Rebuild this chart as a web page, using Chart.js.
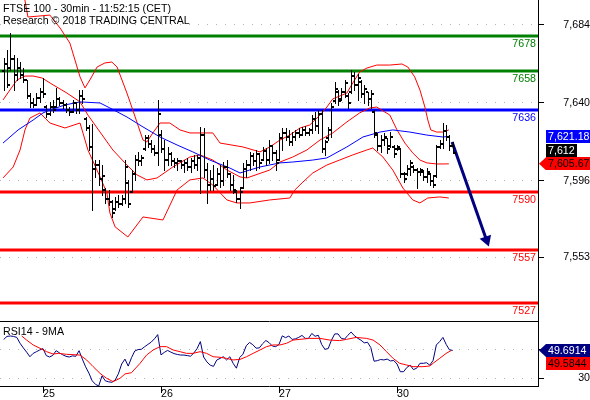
<!DOCTYPE html>
<html>
<head>
<meta charset="utf-8">
<script src="https://cdn.jsdelivr.net/npm/chart.js@4.4.1/dist/chart.umd.min.js"></script>
<style>
html, body { margin: 0; padding: 0; background: #fff; }
#wrap { position: relative; width: 590px; height: 400px; overflow: hidden; }
#price { position: absolute; left: 0; top: 0; }
#rsi { position: absolute; left: 0; top: 321px; }
</style>
</head>
<body>
<div id="wrap">
  <canvas id="price" width="590" height="321"></canvas>
  <canvas id="rsi" width="590" height="79"></canvas>
</div>
<script>
// ---- data (x = 30min bar index) ----
var titleLine1 = 'FTSE 100 - 30min - 11:52:15 (CET)';
var titleLine2 = 'Research \u00a9 2018 TRADING CENTRAL';
var rsiTitle = 'RSI14 - 9MA';

var dayIdx = [12, 48, 84, 120];
var dayLabels = ['25', '26', '27', '30'];
var priceTicks = [7553, 7596, 7640, 7684];
var rsiTicks = [30, 50];

var levels = [7678, 7658, 7636, 7590, 7557, 7527];
var levelColors = ['#008000', '#008000', '#0000ff', '#ff0000', '#ff0000', '#ff0000'];

var high = [
  7665.4,7669.9,7679.5,7667.1,7665.4,7663.1,7659.7,7653.0,7645.6,7642.8,
  7645.6,7648.5,7654.1,7638.9,7640.6,7641.7,7648.5,7643.4,7641.7,7640.0,
  7637.7,7641.7,7640.6,7647.3,7647.3,7632.1,7627.6,7628.0,7607.8,7607.8,
  7605.0,7592.0,7590.9,7585.3,7587.0,7588.1,7588.1,7607.8,7596.6,7602.2,
  7610.7,7612.4,7610.7,7621.9,7621.9,7619.1,7616.3,7641.7,7624.8,7619.1,
  7615.2,7612.4,7609.0,7609.0,7607.8,7607.8,7609.0,7609.0,7610.7,7610.7,
  7626.5,7625.9,7606.2,7602.2,7605.0,7603.3,7605.0,7606.7,7607.8,7600.5,
  7599.4,7590.9,7592.6,7606.2,7607.8,7612.4,7611.8,7613.5,7611.8,7615.2,
  7614.6,7619.1,7616.3,7613.5,7623.1,7625.9,7625.9,7624.8,7623.6,7624.8,
  7625.9,7626.5,7627.0,7625.9,7633.2,7634.9,7636.0,7636.0,7619.1,7626.5,
  7640.0,7651.8,7647.3,7648.5,7653.0,7645.6,7658.6,7657.5,7656.3,7653.0,
  7650.2,7646.2,7647.3,7636.0,7623.1,7621.9,7623.1,7620.3,7623.6,7616.3,
  7616.3,7614.6,7601.1,7605.0,7607.8,7605.0,7603.3,7603.3,7602.2,7603.3,
  7600.5,7599.4,7616.3,7619.1,7628.7,7627.6,7621.9,7618.0
];
var low = [
  7647.3,7649.0,7658.6,7647.3,7653.0,7654.0,7651.8,7642.8,7637.7,7637.7,
  7638.9,7640.6,7643.4,7632.1,7633.2,7634.9,7637.7,7638.9,7637.2,7634.9,
  7633.2,7634.9,7634.4,7634.4,7640.0,7624.8,7613.5,7579.6,7598.3,7593.7,
  7588.1,7583.6,7582.5,7575.7,7579.6,7581.3,7582.5,7583.6,7581.3,7589.8,
  7596.6,7605.0,7605.0,7613.5,7615.2,7612.4,7610.7,7605.0,7612.4,7602.2,
  7605.0,7605.0,7604.0,7602.2,7603.3,7601.0,7602.2,7601.0,7603.3,7602.2,
  7589.2,7598.3,7583.6,7590.9,7590.9,7593.7,7592.6,7593.7,7598.3,7590.9,
  7589.2,7584.2,7580.8,7592.0,7598.3,7602.2,7605.0,7602.2,7603.3,7607.8,
  7605.0,7606.2,7607.8,7602.2,7607.8,7613.5,7619.1,7616.3,7616.3,7619.1,
  7620.8,7621.9,7621.9,7621.9,7623.1,7624.8,7623.1,7612.4,7610.7,7619.1,
  7620.8,7640.0,7638.9,7641.7,7643.4,7637.2,7645.6,7647.3,7641.7,7643.4,
  7640.0,7638.9,7637.2,7620.8,7613.5,7612.4,7616.3,7611.8,7615.2,7609.5,
  7613.5,7598.3,7595.4,7599.4,7599.4,7601.0,7592.0,7599.4,7596.6,7595.4,
  7593.7,7592.6,7598.3,7614.6,7614.6,7619.1,7613.5,7611.8
];
var open = [
  7658,7662,7660,7665,7656,7660,7656,7653,7644,7640,
  7639,7643,7646,7638,7634,7638,7638,7642,7640,7639,
  7636,7635,7640,7636,7644,7631,7626,7615,7603,7605,
  7597,7591,7586,7584,7580,7584,7583,7586,7595,7590,
  7600,7608,7607,7614,7620,7617,7614,7612,7622,7614,
  7608,7611,7607,7606,7607,7605,7606,7604,7607,7605,
  7609,7622,7602,7594,7597,7594,7600,7596,7604,7600,
  7594,7590,7586,7592,7603,7605,7610,7607,7611,7608,
  7613,7608,7616,7612,7608,7620,7623,7621,7618,7621,
  7623,7622,7625,7623,7625,7631,7627,7634,7614,7620,
  7625,7641,7646,7642,7646,7644,7646,7655,7650,7652,
  7645,7646,7642,7635,7622,7616,7619,7620,7616,7615,
  7614,7614,7600,7600,7603,7604,7602,7601,7601,7598,
  7600,7596,7599,7615,7617,7624,7621,7616
];
var close = [
  7662,7650,7665,7656,7660,7656,7653,7644,7640,7639,
  7643,7646,7645,7634,7638,7636,7642,7640,7639,7636,
  7635,7640,7636,7644,7642,7626,7615,7603,7605,7597,
  7599,7586,7584,7578,7584,7583,7586,7604,7583,7600,
  7608,7607,7609,7620,7617,7614,7612,7634,7614,7608,
  7611,7607,7606,7607,7605,7606,7604,7607,7605,7609,
  7622,7602,7594,7597,7593,7600,7596,7604,7600,7594,
  7591,7586,7590,7603,7605,7610,7607,7611,7606,7613,
  7608,7616,7612,7606,7620,7623,7621,7618,7621,7623,
  7622,7625,7623,7625,7631,7627,7634,7614,7618,7625,
  7638,7648,7641,7646,7651,7640,7655,7650,7654,7645,
  7648,7642,7645,7623,7616,7619,7621,7614,7621,7611,
  7615,7600,7597,7603,7606,7602,7601,7602,7598,7601,
  7596,7594,7615,7617,7624,7621,7616,7612
];

var upperIdx = [4.4,6.2,7.4,11.1,14.1,17.2,20.2,23.3,24.8,26.3,28.5,30.9,33.0,34.6,37.6,39.4,42.5,43.7,45.5,47.7,
  50.7,53.8,56.8,63.8,66.0,73.0,78.2,81.2,84.3,87.3,90.4,93.4,96.5,98.6,100.4,104.7,106.5,108.6,110.8,113.8,
  117.8,121.5,123.3,125.4,127.0,128.5,129.4,130.3,132.1,134.0,135.8];
var upperVal = [7715.0,7700.9,7688.5,7689.1,7689.6,7682.3,7673.8,7654.7,7648.5,7653.0,7660.3,7662.6,7663.1,7660.3,7645.6,7636.0,7619.1,7618.0,7623.1,7628.7,
  7628.7,7624.8,7623.1,7623.1,7617.4,7615.2,7612.4,7615.2,7619.1,7621.9,7625.9,7627.6,7633.2,7637.7,7642.3,7645.6,7651.3,7657.5,7659.7,7661.4,
  7661.4,7662.0,7660.3,7654.7,7647.3,7637.7,7630.4,7624.8,7623.6,7623.6,7624.8];

var midIdx = [-0.2,1.9,4.1,6.5,9.0,11.7,15.1,19.3,23.3,25.7,29.4,33.3,37.6,40.7,43.7,46.8,51.6,56.8,59.9,63.8,
  68.1,72.1,74.2,81.2,84.3,88.2,92.5,96.5,100.4,104.7,108.6,111.7,113.8,117.8,120.0,122.4,124.8,127.0,129.1,132.1,
  134.6,135.8];
var midVal = [7641.7,7647.3,7653.0,7655.2,7655.2,7654.1,7650.2,7645.6,7640.6,7633.2,7623.6,7613.5,7605.0,7599.4,7596.6,7597.7,7603.9,7609.5,7610.7,7607.8,
  7602.2,7598.3,7597.7,7602.2,7606.7,7609.5,7613.5,7619.1,7623.1,7629.3,7634.4,7637.2,7637.7,7633.2,7624.8,7617.4,7611.8,7607.8,7606.2,7605.6,
  7605.6,7605.67];

var lowerIdx = [-0.2,2.9,5.0,6.5,8.0,11.1,14.1,18.7,23.3,25.7,29.4,31.5,32.4,34.0,37.9,42.5,48.6,52.9,56.8,60.8,
  63.8,68.1,71.1,75.1,81.2,87.3,88.8,91.3,94.3,98.6,102.5,106.5,110.8,112.6,115.7,118.7,121.8,124.8,127.0,129.4,
  133.0,135.8];
var lowerVal = [7597.7,7603.9,7613.5,7624.8,7631.5,7634.4,7628.7,7625.9,7628.7,7613.5,7598.3,7589.2,7578.0,7570.1,7564.4,7575.7,7574.0,7590.9,7596.6,7597.7,
  7593.7,7585.3,7583.6,7583.6,7585.3,7586.4,7590.9,7595.4,7600.5,7605.0,7607.8,7610.7,7613.5,7614.6,7609.5,7602.2,7592.0,7585.3,7583.6,7586.4,
  7587.0,7586.4];

var maIdx = [-0.2,4.4,9.0,12.0,14.1,18.7,23.3,29.4,32.4,37.6,42.5,47.7,52.9,57.7,62.9,69.0,72.1,75.1,78.2,84.3,
  88.2,94.3,98.6,104.7,109.6,114.8,118.7,123.9,129.1,134.0,135.8];
var maVal = [7617.4,7624.8,7630.4,7634.4,7636.0,7638.9,7640.6,7640.0,7637.2,7632.1,7626.5,7620.8,7616.3,7612.4,7607.8,7603.3,7600.5,7602.2,7603.9,7606.2,
  7606.7,7607.8,7609.0,7615.2,7620.8,7623.6,7624.8,7623.6,7621.9,7620.8,7621.18];

var arrowIdx = [136.8, 147.3];
var arrowVal = [7618, 7562.7];

var rsi = [
  57.5,59.7,60,59.7,59,54.8,51.5,48.5,45.2,47.6,
  48.8,50,51,46,45,46.2,49.5,48,46.6,45.5,
  45,45.8,45.5,49.5,43.5,38,33.5,28,25.5,24.3,
  31.5,28,27.3,26.9,28.5,33,40,43.5,38.5,44.5,
  49.3,50.3,50.5,52.3,54,55.6,58,61,46.5,48.3,
  49.7,48.5,47.4,46.8,46.4,46.4,46,45.6,47.8,51,
  56,45,41.5,39.2,38.3,42.8,44,45.2,42.9,45.2,
  40.5,37,44.6,47,53,55.4,53.8,51.3,51.5,54.5,
  56.8,55.2,52.8,52.4,54,60.1,58.8,60,57.5,58,
  59,60.4,58.3,58.3,61.8,59.8,60.5,54,50.5,51,
  57,61.5,61.5,58.3,57.8,60.5,62.8,60.2,58.4,57,
  55.1,55.5,51.8,42,42.4,43.2,42.9,43.5,42.2,42.5,
  40,34.5,34.5,37.5,39.2,36,37,40.5,40.5,40.9,
  39.2,42.5,53.6,56,59,54,50.1,49.69
];
var rsiMaIdx = [5.5,7.0,9.0,11.1,13.1,15.1,16.7,19.2,23.3,25.3,27.3,29.4,31.4,33.4,35.5,37.0,39.0,41.6,43.6,45.6,
  47.7,49.7,51.7,53.8,55.8,57.8,59.9,61.9,63.9,66.0,68.0,70.0,72.1,74.1,76.1,78.2,80.2,82.2,84.3,86.3,
  88.3,90.4,93.4,96.5,99.5,102.5,104.6,107.6,110.7,112.7,114.8,116.8,118.8,120.8,122.9,124.9,127.9,130.0,131.0,133.0,
  135.0,136.5];
var rsiMaVal = [60,57.1,53.6,51.2,48.8,47.1,47.6,46.9,46.4,42.9,38.1,33.3,29.8,27.4,29.8,32.9,33.8,40.5,46.4,50,
  52.4,52.4,50,48.8,47.6,47.6,48.8,47.6,45.2,44.8,44,42.9,43.3,45.2,47.6,50,52.4,53.6,53.6,54.8,
  57.1,57.6,58.3,58.3,57.1,56.7,57.6,59,58.3,57.1,53.6,48.8,44,40.5,39.3,38.1,38.1,38.6,40.5,44,
  47.6,49.58];

var lastMa = 7621.18, lastClose = 7612, lastMid = 7605.67;
var lastRsi = 49.6914, lastRsiMa = 49.5844;

// ---- common ----
var X_MIN = -1.12, X_MAX = 163.01;
var FONT = { family: 'Liberation Sans, Arial, sans-serif', size: 10.67 };
var FONT_CSS = '10.67px "Liberation Sans", Arial, sans-serif';
Chart.defaults.font.family = FONT.family;
Chart.defaults.font.size = FONT.size;
Chart.defaults.color = '#000';

function pts(xs, ys) { return xs.map(function (x, i) { return { x: x, y: ys[i] }; }); }

// fixed axis box, no extra label padding pushed into the chart area
function fitRight(s) { s.width = 52; s.paddingTop = 0; s.paddingBottom = 0; }
function fitBottom(s) { s.height = 14; s.paddingLeft = 0; s.paddingRight = 0; }

function tag(ctx, left, y, text, bg, fg, w, pointer) {
  var h = 13, x0 = left + 8;
  ctx.fillStyle = bg;
  ctx.fillRect(x0, Math.round(y - h / 2), w, h);
  if (pointer) {
    ctx.beginPath();
    ctx.moveTo(left + 1, y);
    ctx.lineTo(x0, y - h / 2);
    ctx.lineTo(x0, y + h / 2);
    ctx.closePath();
    ctx.fill();
  }
  ctx.fillStyle = fg;
  ctx.font = FONT_CSS;
  ctx.textAlign = 'left';
  ctx.textBaseline = 'middle';
  ctx.fillText(text, x0 + 2, y + 0.5);
}

// OHLC bars, drawn through the chart scales
var ohlcPlugin = {
  id: 'ohlc',
  afterDatasetsDraw: function (chart) {
    var ctx = chart.ctx, xs = chart.scales.x, ys = chart.scales.y, a = chart.chartArea;
    ctx.save();
    ctx.beginPath(); ctx.rect(a.left, a.top, a.right - a.left, a.bottom - a.top); ctx.clip();
    ctx.fillStyle = '#000';
    for (var i = 0; i < high.length; i++) {
      var px = Math.round(xs.getPixelForValue(i));
      var hi = Math.round(ys.getPixelForValue(high[i]));
      var lo = Math.round(ys.getPixelForValue(low[i]));
      var op = Math.round(ys.getPixelForValue(open[i]));
      var cl = Math.round(ys.getPixelForValue(close[i]));
      ctx.fillRect(px, hi, 1, lo - hi + 1);
      ctx.fillRect(px - 2, op - 1, 2, 2);
      ctx.fillRect(px + 1, cl - 1, 2, 2);
    }
    ctx.restore();
  }
};

var levelPlugin = {
  id: 'levels',
  beforeDatasetsDraw: function (chart) {
    var ctx = chart.ctx, ys = chart.scales.y, a = chart.chartArea;
    ctx.save();
    ctx.lineWidth = 3;
    levels.forEach(function (v, i) {
      var y = Math.round(ys.getPixelForValue(v));
      ctx.strokeStyle = levelColors[i];
      ctx.beginPath(); ctx.moveTo(a.left, y); ctx.lineTo(a.right, y); ctx.stroke();
    });
    ctx.restore();
  },
  afterDraw: function (chart) {
    var ctx = chart.ctx, ys = chart.scales.y, a = chart.chartArea;
    ctx.save();
    ctx.font = FONT_CSS;
    ctx.textBaseline = 'alphabetic';
    ctx.textAlign = 'right';
    levels.forEach(function (v, i) {
      var y = Math.round(ys.getPixelForValue(v));
      ctx.fillStyle = levelColors[i];
      ctx.fillText(String(v), a.right - 2, y + 11);
    });
    ctx.textAlign = 'left';
    ctx.fillStyle = '#000';
    ctx.fillText(titleLine1, 3, 12);
    ctx.fillText(titleLine2, 3, 24);

    var left = ys.left, h = 13;
    var yMa = ys.getPixelForValue(lastMa);
    var yMid = ys.getPixelForValue(lastMid);
    var yCl = ys.getPixelForValue(lastClose);
    yCl = Math.min(Math.max(yCl, yMa + h), yMid - h);
    tag(ctx, left, yMa, lastMa.toLocaleString('en-US', { minimumFractionDigits: 2 }), '#0000ff', '#fff', 50, false);
    tag(ctx, left, yCl, lastClose.toLocaleString('en-US'), '#000', '#fff', 31, false);
    tag(ctx, left, yMid, lastMid.toLocaleString('en-US', { minimumFractionDigits: 2 }), '#ff0000', '#000', 50, true);
    ctx.restore();
  }
};

new Chart(document.getElementById('price'), {
  type: 'line',
  data: {
    datasets: [
      { data: pts(arrowIdx, arrowVal), borderColor: '#000080', backgroundColor: '#000080', borderWidth: 3,
        pointRadius: [0, 7], pointStyle: 'triangle', pointRotation: 160.6, pointBorderWidth: 0 },
      { data: pts(maIdx, maVal), borderColor: '#0000ff', borderWidth: 1 },
      { data: pts(upperIdx, upperVal), borderColor: '#ff0000', borderWidth: 1 },
      { data: pts(midIdx, midVal), borderColor: '#ff0000', borderWidth: 1 },
      { data: pts(lowerIdx, lowerVal), borderColor: '#ff0000', borderWidth: 1 }
    ]
  },
  options: {
    responsive: false,
    animation: false,
    devicePixelRatio: 1,
    layout: { padding: 0, autoPadding: false },
    elements: { point: { radius: 0 }, line: { tension: 0 } },
    plugins: { legend: { display: false }, tooltip: { enabled: false } },
    scales: {
      x: { type: 'linear', min: X_MIN, max: X_MAX, display: false },
      y: {
        position: 'right', min: 7517.0, max: 7698.1,
        afterFit: fitRight,
        afterBuildTicks: function (s) { s.ticks = priceTicks.map(function (v) { return { value: v }; }); },
        grid: { color: '#b4b4b4', tickColor: '#000', tickLength: 6, tickBorderDash: [] },
        border: { display: true, color: '#000', dash: [1, 8] },
        ticks: { crossAlign: 'far', padding: 16, color: '#000', callback: function (v) { return v.toLocaleString('en-US'); } }
      }
    }
  },
  plugins: [levelPlugin, ohlcPlugin]
});

var rsiPlugin = {
  id: 'rsiDecor',
  afterDraw: function (chart) {
    var ctx = chart.ctx, ys = chart.scales.y, a = chart.chartArea;
    ctx.save();
    ctx.strokeStyle = '#000'; ctx.lineWidth = 1;
    ctx.beginPath(); ctx.moveTo(a.left, a.top + 0.5); ctx.lineTo(a.right + 1, a.top + 0.5); ctx.stroke();
    ctx.font = FONT_CSS; ctx.fillStyle = '#000'; ctx.textAlign = 'left'; ctx.textBaseline = 'alphabetic';
    ctx.fillText(rsiTitle, 3, a.top + 14);
    var left = ys.left, h = 13;
    var yR = ys.getPixelForValue(lastRsi);
    var yM = Math.max(ys.getPixelForValue(lastRsiMa), yR + h);
    tag(ctx, left, yR, String(lastRsi), '#000080', '#fff', 50, true);
    tag(ctx, left, yM, String(lastRsiMa), '#ff0000', '#000', 50, false);
    ctx.restore();
  }
};

new Chart(document.getElementById('rsi'), {
  type: 'line',
  data: {
    datasets: [
      { data: pts(rsiMaIdx, rsiMaVal), borderColor: '#ff0000', borderWidth: 1 },
      { data: rsi.map(function (v, i) { return { x: i, y: v }; }), borderColor: '#000080', borderWidth: 1 }
    ]
  },
  options: {
    responsive: false,
    animation: false,
    devicePixelRatio: 1,
    layout: { padding: 0, autoPadding: false },
    elements: { point: { radius: 0 }, line: { tension: 0 } },
    plugins: { legend: { display: false }, tooltip: { enabled: false } },
    scales: {
      x: {
        type: 'linear', min: X_MIN, max: X_MAX, position: 'bottom',
        afterFit: fitBottom,
        afterBuildTicks: function (s) { s.ticks = dayIdx.map(function (v) { return { value: v }; }); },
        grid: { drawOnChartArea: false, tickColor: '#000', tickLength: 7 },
        border: { display: true, color: '#000' },
        ticks: { align: 'start', padding: -5, maxRotation: 0, autoSkip: false, color: '#000',
          callback: function (v) { return dayLabels[dayIdx.indexOf(v)]; } }
      },
      y: {
        position: 'right', min: 24.29, max: 70.71,
        afterFit: fitRight,
        afterBuildTicks: function (s) { s.ticks = rsiTicks.map(function (v) { return { value: v }; }); },
        grid: { color: '#b4b4b4', tickColor: '#000', tickLength: 6, tickBorderDash: [] },
        border: { display: true, color: '#000', dash: [1, 8] },
        ticks: { crossAlign: 'far', padding: 31, color: '#000' }
      }
    }
  },
  plugins: [rsiPlugin]
});
</script>
</body>
</html>
